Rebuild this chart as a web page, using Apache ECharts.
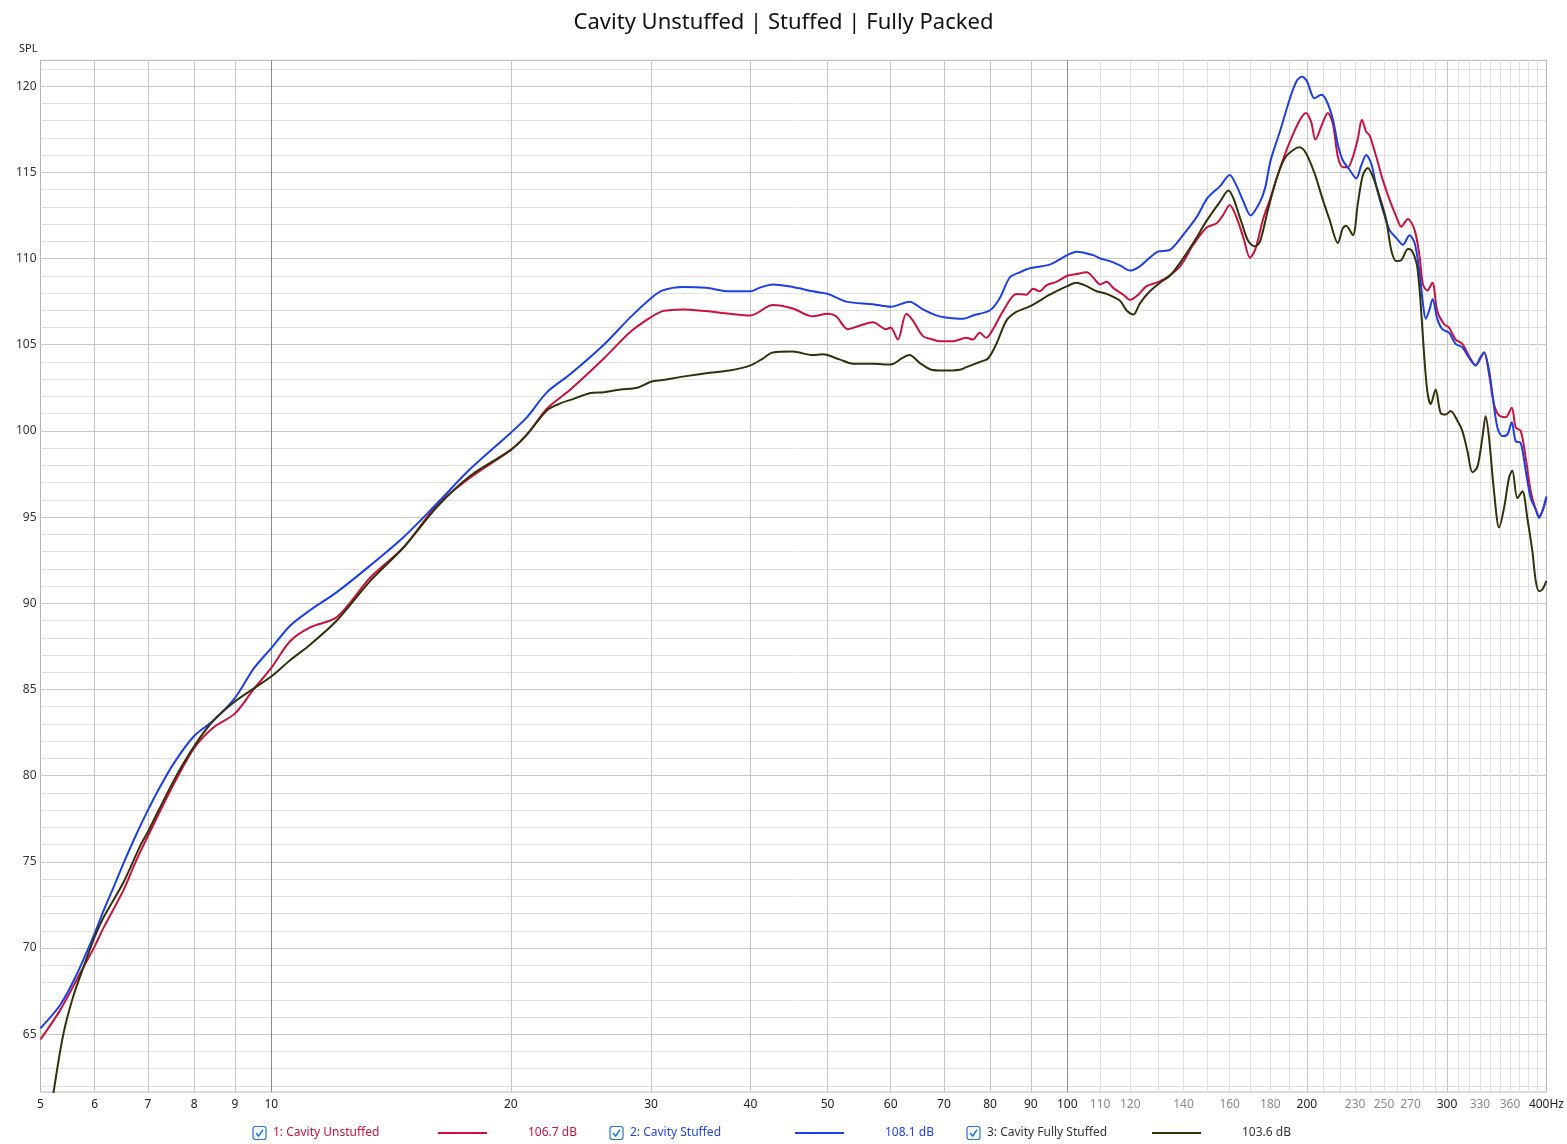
<!DOCTYPE html>
<html><head><meta charset="utf-8">
<script src="https://cdn.jsdelivr.net/npm/echarts@6/dist/echarts.min.js"></script>
<style>html,body{margin:0;padding:0;background:#fff}#c{width:1567px;height:1144px}</style>
</head><body><div id="c"></div><script>
const chartTitle = 'Cavity Unstuffed | Stuffed | Fully Packed';
const seriesNames = ['1: Cavity Unstuffed', '2: Cavity Stuffed', '3: Cavity Fully Stuffed'];
const seriesLevels = ['106.7 dB', '108.1 dB', '103.6 dB'];
const seriesColors = ['#c8123e', '#1b3fe3', '#32320a'];
const legendTextColors = ['#c8123e', '#2343e0', '#333333'];

const freqUnstuffed = [5.13,5.43,5.81,6.0,6.16,6.52,6.77,7.0,7.54,8.0,8.46,9.0,9.5,10.0,10.56,11.19,12.09,13.32,14.67,16.16,17.79,20,20.96,22.21,23.76,26.17,28.27,30,31.03,32.88,35.18,37.63,40,42.67,45.21,47.9,50,51.25,53.0,54.83,56.99,59.22,60,61.27,62.77,64.0,65.88,67.8,69.14,71.86,74.7,76.14,77.62,79.14,80.68,83.06,86.31,88.85,90.59,92.35,94.14,96.9,100,102.7,105.8,107.8,110,112.1,114.2,117.6,120,122.8,125.8,129.5,133.3,138.6,144.0,149.7,154.1,157.1,160,163.3,166.5,169.7,172.2,176.4,180,185.1,190.5,196.1,199.6,202.6,205.0,209.5,212.5,215.6,218.8,221.9,225.2,228.5,231.8,234.5,237.5,239.8,244.5,249.2,254.1,259.0,262.8,267.9,273.2,277.2,279.8,283.4,287.6,291.7,297.4,301.7,307.6,313.6,319.7,326.0,333.9,338.8,343.7,348.8,355.6,361.8,366.0,371.3,376.7,382.2,387.8,391.6,395.3,400];
const splUnstuffed = [64.7,66.4,68.9,70.1,71.2,73.35,75.1,76.5,79.5,81.6,82.8,83.6,85.0,86.25,87.8,88.6,89.2,91.5,93.25,95.7,97.3,98.9,99.8,101.3,102.4,104.2,105.75,106.6,106.95,107.05,106.95,106.8,106.7,107.3,107.1,106.65,106.8,106.65,105.9,106.1,106.3,105.9,106.0,105.3,106.8,106.4,105.5,105.3,105.2,105.2,105.4,105.3,105.7,105.4,105.9,106.95,107.95,107.9,108.25,108.1,108.45,108.65,109.0,109.1,109.2,108.9,108.5,108.65,108.3,107.9,107.6,107.9,108.4,108.6,108.9,109.55,110.8,111.8,112.05,112.55,113.1,112.35,111.2,110.05,110.5,112.35,113.5,115.25,116.8,118.05,118.45,117.9,116.9,117.9,118.45,117.85,115.9,115.3,115.3,115.9,116.95,118.05,117.35,117.15,115.9,114.55,113.4,112.45,111.85,112.3,111.65,110.1,108.5,108.15,108.6,106.95,106.2,106.0,105.3,105.05,104.35,103.8,104.55,103.3,101.55,100.9,100.8,101.35,100.2,100.0,98.45,96.5,95.45,95.05,95.35,96.1];

const freqStuffed = [5.13,5.43,5.68,6.0,6.16,6.34,6.52,6.77,7.0,7.18,7.54,8.0,8.46,9.0,9.5,10.0,10.56,11.19,12.09,13.32,14.67,16.16,17.79,20,20.96,22.21,23.76,26.17,28.27,30,31.03,32.88,35.18,37.63,40,41.05,42.67,45.21,47.9,50,52.75,56.99,60,63.38,65.88,68.47,70,73.98,76.14,80,82.26,84.68,87.15,90,95.05,100,102.7,107.8,110,113.2,116.5,120,123.4,127.0,130,134.6,140,145.4,150,155.6,160,163.3,166.5,170,174.7,177.3,180,185.1,190.5,194.2,197.1,200,204.5,208.5,211.5,215.6,218.8,221.9,226.3,230.7,234.1,237.5,241.0,244.5,249.2,254.1,259.0,264.1,269.2,273.2,277.2,279.8,282.2,285.0,287.8,291.7,296.0,301.7,307.6,313.6,319.7,326.0,330.7,333.9,338.8,342.1,347.1,352.2,357.3,361.8,366.0,371.3,376.7,382.2,387.8,391.6,395.3,400];
const splStuffed = [65.35,66.7,68.35,70.85,72.2,73.55,74.9,76.6,78.0,79.0,80.7,82.3,83.2,84.5,86.2,87.4,88.7,89.6,90.65,92.2,93.85,95.8,97.8,99.9,100.8,102.25,103.3,105.0,106.6,107.7,108.15,108.35,108.3,108.1,108.1,108.3,108.5,108.35,108.1,107.95,107.5,107.35,107.2,107.5,107.05,106.7,106.6,106.5,106.7,107.0,107.7,108.9,109.2,109.45,109.65,110.2,110.4,110.2,110.0,109.85,109.6,109.3,109.55,110.05,110.4,110.5,111.4,112.4,113.5,114.2,114.85,114.2,113.3,112.5,113.3,114.1,115.65,117.4,119.3,120.3,120.55,120.3,119.3,119.5,119.2,118.1,116.6,115.7,115.15,114.65,115.4,116.0,115.5,114.2,112.8,111.65,111.2,110.8,111.35,110.9,109.15,107.4,106.5,107.0,107.65,106.5,105.9,105.7,105.05,104.85,104.25,103.8,104.3,104.55,103.5,102.15,100.2,99.7,99.8,100.5,99.4,99.3,97.7,96.1,95.45,94.95,95.35,96.2];

const freqFullyStuffed = [5.13,5.33,5.48,5.64,5.81,6.0,6.16,6.52,6.84,7.0,7.54,8.0,8.46,9.0,9.5,10.0,10.56,11.19,12.09,13.32,14.67,16.16,17.79,20,20.96,22.21,23.08,23.76,25.18,26.17,27.46,28.83,30,31.03,32.88,35.18,37.63,40,41.46,42.67,45.21,47.9,49.3,51.74,53.78,56.99,60,62.17,63.38,65.25,67.49,70,73.27,74.7,77.62,79.52,81.47,83.87,86.31,90,95.05,97.85,100,102.7,105.8,108.9,112.1,116.5,118.7,121.1,123.4,127.0,130.8,134.6,138.6,144.0,149.7,155.6,159.4,161.7,165.7,168.9,172.2,174.7,179.0,183.4,187.8,192.3,195.8,199.6,204.5,209.5,213.6,218.8,221.9,224.1,228.5,231.8,235.2,238.6,242.1,246.8,251.6,255.3,259.0,262.8,267.9,270.5,273.2,275.3,277.6,280.7,283.4,286.2,290.3,294.5,298.8,303.2,309.1,313.6,318.2,322.9,327.5,332.3,335.5,338.8,343.7,348.8,353.9,359.0,362.4,367.7,373.1,378.5,384.1,387.8,391.6,395.3,400];
const splFullyStuffed = [56.5,61.7,65.0,67.2,68.9,70.65,71.8,73.8,75.9,76.75,79.7,81.7,83.2,84.3,85.05,85.75,86.7,87.6,89.0,91.3,93.25,95.6,97.4,98.9,99.8,101.2,101.6,101.8,102.2,102.25,102.4,102.5,102.85,102.95,103.15,103.35,103.5,103.8,104.2,104.55,104.6,104.4,104.45,104.15,103.9,103.9,103.85,104.25,104.4,103.95,103.55,103.5,103.55,103.7,104.0,104.2,105.05,106.4,106.9,107.25,107.9,108.2,108.4,108.6,108.4,108.1,107.95,107.55,107.0,106.75,107.4,108.1,108.6,109.0,109.75,110.9,112.2,113.3,113.95,113.5,112.05,111.0,110.7,111.0,112.95,114.7,115.85,116.3,116.45,116.1,114.95,113.4,112.25,110.9,111.75,111.9,111.35,113.2,114.85,115.25,114.75,113.6,112.25,110.5,109.85,109.9,110.55,110.5,110.1,109.5,107.8,104.5,102.3,101.55,102.4,101.05,100.95,101.15,100.6,100.0,98.85,97.6,97.9,99.6,100.85,99.6,96.5,94.4,95.55,97.3,97.7,96.1,96.5,94.95,93.0,91.3,90.7,90.8,91.3];

const xMin = 5.13, xMax = 400, yMin = 61.65, yMax = 121.5;
const xLabelTicks = [5.1301,6,7,8,9,10,20,30,40,50,60,70,80,90,100,110,120,140,160,180,200,230,250,270,300,330,360,399.999];
const xGrayLabels = [110,120,140,160,180,230,250,270,330,360];
const xMinorGrid = [110,120,130,140,150,160,170,180,190,210,220,230,240,250,260,270,280,290,310,320,330,340,350,360,370,380,390];
const xMidGrid = [6,7,8,9,20,30,40,50,60,70,80,90,200,300];
const xMajorGrid = [10,100];
const yLabelTicks = [65,70,75,80,85,90,95,100,105,110,115,120];
const yMinorGrid = [62,63,64,65,66,67,68,69,70,71,72,73,74,75,76,77,78,79,80,81,82,83,84,85,86,87,88,89,90,91,92,93,94,95,96,97,98,99,100,101,102,103,104,105,106,107,108,109,110,111,112,113,114,115,116,117,118,119,120,121];

const FONT = '"Noto Sans", "DejaVu Sans", sans-serif';

function zipSeries(fr, vals) { return fr.map((f, i) => [f, vals[i]]); }

function hiddenX(ticks, color) {
  return { type: 'log', logBase: 10, min: xMin, max: xMax, gridIndex: 0,
    axisLine: { show: false }, axisLabel: { show: false },
    axisTick: { show: false, customValues: ticks },
    splitLine: { show: true, lineStyle: { color: color, width: 1 } } };
}

const chart = echarts.init(document.getElementById('c'), null, { renderer: 'canvas' });
const legendX0 = 253, legendStep = 357, legendY = 1133;
const graphics = [];
seriesNames.forEach((name, i) => {
  const x = legendX0 + i * legendStep;
  graphics.push(
    { type: 'rect', shape: { x: x, y: legendY - 6.5, width: 13, height: 13, r: 2.5 }, style: { fill: '#fff', stroke: '#1f72d6', lineWidth: 1.2 } },
    { type: 'polyline', shape: { points: [[x + 3, legendY], [x + 5.6, legendY + 3], [x + 10, legendY - 3.2]] }, style: { stroke: '#1f72d6', lineWidth: 1.5, fill: null } },
    { type: 'text', x: x + 20, y: legendY, style: { text: name, fill: legendTextColors[i], font: '12px ' + FONT, verticalAlign: 'middle', align: 'left' } },
    { type: 'line', shape: { x1: x + 185, y1: legendY, x2: x + 234, y2: legendY }, style: { stroke: seriesColors[i], lineWidth: 2 } },
    { type: 'text', x: x + 275, y: legendY, style: { text: seriesLevels[i], fill: legendTextColors[i], font: '12px ' + FONT, verticalAlign: 'middle', align: 'left' } }
  );
});

const option = {
  backgroundColor: '#ffffff',
  animation: false,
  title: { text: chartTitle, left: 'center', top: 7, textStyle: { fontSize: 22, fontWeight: 'normal', color: '#111', fontFamily: FONT } },
  grid: { left: 40.5, right: 19.3, top: 60.3, bottom: 52, show: true, borderColor: '#b4b4b4', borderWidth: 1, backgroundColor: 'transparent' },
  xAxis: [
    { type: 'log', logBase: 10, min: xMin, max: xMax, gridIndex: 0,
      axisLine: { show: false }, axisTick: { show: false, customValues: xMinorGrid },
      splitLine: { show: true, lineStyle: { color: '#e0e0e0', width: 1 } },
      axisLabel: { customValues: xLabelTicks, margin: 7, fontSize: 12, fontFamily: FONT, color: '#222',
        formatter: function (v) {
          if (v < 5.5) return '{d|5}';
          if (v > 399) return '{d|400Hz}';
          const r = Math.round(v);
          return (xGrayLabels.indexOf(r) >= 0 ? '{g|' : '{d|') + r + '}';
        },
        rich: { d: { color: '#222', fontSize: 12, fontFamily: FONT }, g: { color: '#8a8a8a', fontSize: 12, fontFamily: FONT } } } },
    hiddenX(xMidGrid, '#c6c6c6'),
    hiddenX(xMajorGrid, '#8c8c8c')
  ],
  yAxis: [
    { type: 'value', min: yMin, max: yMax, gridIndex: 0, name: 'SPL', nameLocation: 'end', nameGap: 6,
      nameTextStyle: { fontSize: 11, color: '#222', fontFamily: FONT, align: 'right', padding: [0, 3, 0, 0] },
      axisLine: { show: false }, axisTick: { show: false, customValues: yMinorGrid },
      splitLine: { show: true, lineStyle: { color: '#e0e0e0', width: 1 } },
      axisLabel: { customValues: yLabelTicks, margin: 4, fontSize: 12, fontFamily: FONT, color: '#333' } },
    { type: 'value', min: yMin, max: yMax, gridIndex: 0, position: 'left',
      axisLine: { show: false }, axisLabel: { show: false }, axisTick: { show: false, customValues: yLabelTicks },
      splitLine: { show: true, lineStyle: { color: '#c6c6c6', width: 1 } } }
  ],
  series: [
    { name: seriesNames[0], type: 'line', xAxisIndex: 0, yAxisIndex: 0, data: zipSeries(freqUnstuffed, splUnstuffed), showSymbol: false, smooth: 0.3, lineStyle: { color: seriesColors[0], width: 2 }, itemStyle: { color: seriesColors[0] }, z: 3 },
    { name: seriesNames[1], type: 'line', xAxisIndex: 0, yAxisIndex: 0, data: zipSeries(freqStuffed, splStuffed), showSymbol: false, smooth: 0.3, lineStyle: { color: seriesColors[1], width: 2 }, itemStyle: { color: seriesColors[1] }, z: 4 },
    { name: seriesNames[2], type: 'line', xAxisIndex: 0, yAxisIndex: 0, data: zipSeries(freqFullyStuffed, splFullyStuffed), showSymbol: false, smooth: 0.3, lineStyle: { color: seriesColors[2], width: 2 }, itemStyle: { color: seriesColors[2] }, z: 5 }
  ],
  graphic: graphics
};
chart.setOption(option);
</script></body></html>
